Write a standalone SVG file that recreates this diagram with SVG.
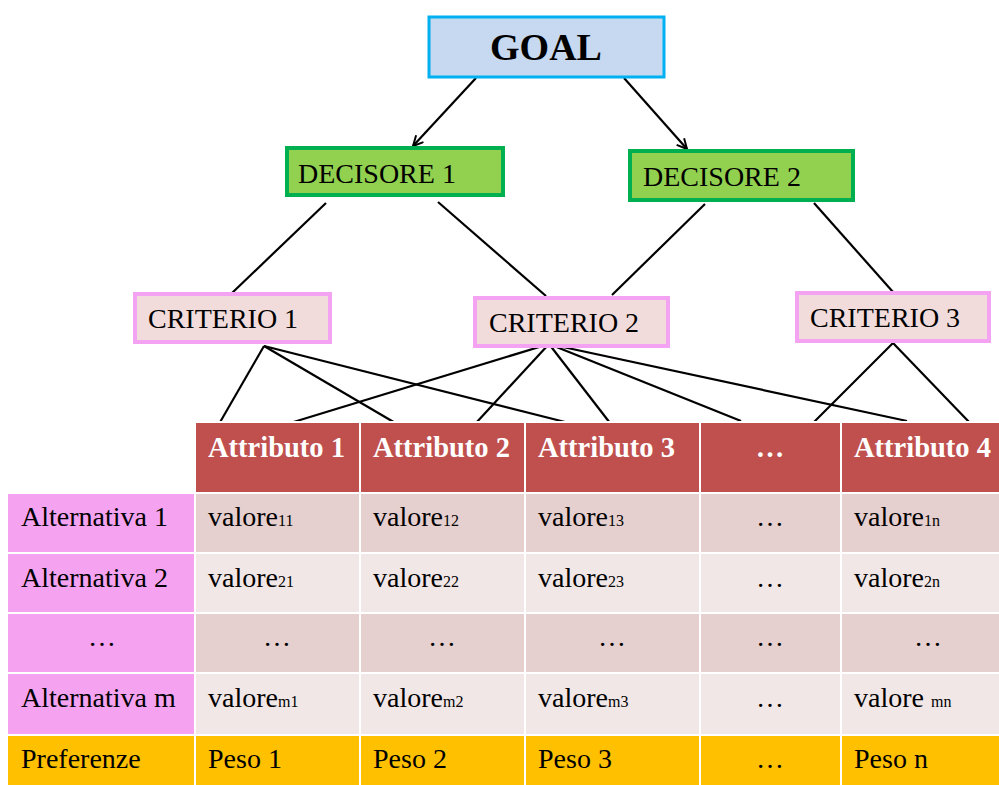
<svg xmlns="http://www.w3.org/2000/svg" width="999" height="785" viewBox="0 0 999 785">
<defs>
<marker id="arr" viewBox="0 0 12 12" refX="11" refY="6" markerWidth="12" markerHeight="12" markerUnits="userSpaceOnUse" orient="auto">
<path d="M1,1 L11,6 L1,11" fill="none" stroke="#000" stroke-width="2"/>
</marker>
<style>
text{font-family:"Liberation Serif","Times New Roman",serif;fill:#000}
.goal{fill:#C6D9F1;stroke:#00B0F0;stroke-width:3}
.dec{fill:#92D050;stroke:#00B050;stroke-width:4}
.cri{fill:#F2DCDB;stroke:#F4A3F2;stroke-width:4}
.lbl{font-size:28px}
.hdr{fill:#C0504D}
.ht{font-size:28.5px;font-weight:bold;fill:#fff}
.dark{fill:#E6CFCF}
.light{fill:#F2E7E7}
.pink{fill:#F5A3F0}
.orng{fill:#FFC000}
.bt{font-size:28px}
.sub{font-size:16px}
.grid{stroke:#fff;stroke-width:2}
.con{stroke:#000;stroke-width:2.2;fill:none}
</style>
</defs>

<g id="connectors">
<line class="con" x1="476" y1="78" x2="413" y2="146" marker-end="url(#arr)"/>
<line class="con" x1="624" y1="78" x2="687" y2="149" marker-end="url(#arr)"/>
<line class="con" x1="326" y1="203" x2="232" y2="293"/>
<line class="con" x1="438" y1="202" x2="546" y2="296"/>
<line class="con" x1="705" y1="204" x2="612" y2="295"/>
<line class="con" x1="814" y1="203" x2="893" y2="292"/>
<line class="con" x1="264" y1="346" x2="219" y2="424"/>
<line class="con" x1="264" y1="346" x2="397" y2="424"/>
<line class="con" x1="264" y1="346" x2="573" y2="424"/>
<line class="con" x1="549" y1="344" x2="287" y2="424"/>
<line class="con" x1="549" y1="344" x2="476" y2="423"/>
<line class="con" x1="549" y1="344" x2="610" y2="423"/>
<line class="con" x1="549" y1="344" x2="741" y2="421"/>
<line class="con" x1="549" y1="344" x2="907" y2="421"/>
<line class="con" x1="893" y1="343" x2="813" y2="423"/>
<line class="con" x1="893" y1="343" x2="970" y2="423"/>
</g>

<g id="goal">
<rect class="goal" x="429" y="17" width="235" height="60"/>
<text x="546" y="60" text-anchor="middle" font-size="38" font-weight="bold">GOAL</text>
</g>
<g id="decisore1">
<rect class="dec" x="287" y="148" width="216" height="47"/>
<text class="lbl" x="298" y="183">DECISORE 1</text>
</g>
<g id="decisore2">
<rect class="dec" x="630" y="151" width="223" height="49"/>
<text class="lbl" x="643" y="186">DECISORE 2</text>
</g>
<g id="criterio1">
<rect class="cri" x="135" y="294" width="195" height="48"/>
<text class="lbl" x="148" y="328">CRITERIO 1</text>
</g>
<g id="criterio2">
<rect class="cri" x="475" y="298" width="193" height="48"/>
<text class="lbl" x="489" y="332">CRITERIO 2</text>
</g>
<g id="criterio3">
<rect class="cri" x="797" y="293" width="192" height="48"/>
<text class="lbl" x="810" y="327">CRITERIO 3</text>
</g>

<g id="table">
<rect class="hdr" x="195" y="422" width="804" height="70"/>
<rect class="pink" x="8" y="494" width="187" height="241"/>
<rect class="dark" x="195" y="494" width="804" height="59"/>
<rect class="light" x="195" y="553" width="804" height="60"/>
<rect class="dark" x="195" y="613" width="804" height="60"/>
<rect class="light" x="195" y="673" width="804" height="62"/>
<rect class="orng" x="8" y="735" width="991" height="50"/>
<g class="grid">
<line x1="195" y1="422" x2="999" y2="422"/>
<line x1="8" y1="493" x2="999" y2="493"/>
<line x1="8" y1="553" x2="999" y2="553"/>
<line x1="8" y1="613" x2="999" y2="613"/>
<line x1="8" y1="673" x2="999" y2="673"/>
<line x1="8" y1="735" x2="999" y2="735"/>
<line x1="195" y1="422" x2="195" y2="785"/>
<line x1="360" y1="422" x2="360" y2="785"/>
<line x1="525" y1="422" x2="525" y2="785"/>
<line x1="700" y1="422" x2="700" y2="785"/>
<line x1="841" y1="422" x2="841" y2="785"/>
</g>
<text class="ht" x="208" y="457">Attributo 1</text>
<text class="ht" x="373" y="457">Attributo 2</text>
<text class="ht" x="538" y="457">Attributo 3</text>
<text class="ht" x="770" y="457" text-anchor="middle">…</text>
<text class="ht" x="854" y="457">Attributo 4</text>

<text class="bt" x="21" y="526">Alternativa 1</text>
<text class="bt" x="21" y="587">Alternativa 2</text>
<text class="bt" x="102" y="646" text-anchor="middle">…</text>
<text class="bt" x="21" y="707">Alternativa m</text>
<text class="bt" x="21" y="768">Preferenze</text>

<text class="bt" x="208" y="526">valore<tspan class="sub">11</tspan></text>
<text class="bt" x="373" y="526">valore<tspan class="sub">12</tspan></text>
<text class="bt" x="538" y="526">valore<tspan class="sub">13</tspan></text>
<text class="bt" x="770" y="526" text-anchor="middle">…</text>
<text class="bt" x="854" y="526">valore<tspan class="sub">1n</tspan></text>

<text class="bt" x="208" y="587">valore<tspan class="sub">21</tspan></text>
<text class="bt" x="373" y="587">valore<tspan class="sub">22</tspan></text>
<text class="bt" x="538" y="587">valore<tspan class="sub">23</tspan></text>
<text class="bt" x="770" y="587" text-anchor="middle">…</text>
<text class="bt" x="854" y="587">valore<tspan class="sub">2n</tspan></text>

<text class="bt" x="277" y="646" text-anchor="middle">…</text>
<text class="bt" x="442" y="646" text-anchor="middle">…</text>
<text class="bt" x="612" y="646" text-anchor="middle">…</text>
<text class="bt" x="770" y="646" text-anchor="middle">…</text>
<text class="bt" x="928" y="646" text-anchor="middle">…</text>

<text class="bt" x="208" y="707">valore<tspan class="sub">m1</tspan></text>
<text class="bt" x="373" y="707">valore<tspan class="sub">m2</tspan></text>
<text class="bt" x="538" y="707">valore<tspan class="sub">m3</tspan></text>
<text class="bt" x="770" y="707" text-anchor="middle">…</text>
<text class="bt" x="854" y="707">valore <tspan class="sub">mn</tspan></text>

<text class="bt" x="208" y="768">Peso 1</text>
<text class="bt" x="373" y="768">Peso 2</text>
<text class="bt" x="538" y="768">Peso 3</text>
<text class="bt" x="770" y="768" text-anchor="middle">…</text>
<text class="bt" x="854" y="768">Peso n</text>
</g>
</svg>
